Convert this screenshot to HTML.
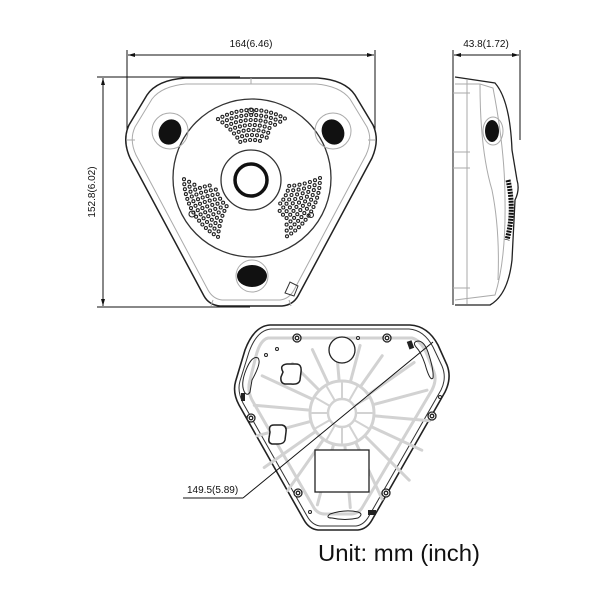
<!DOCTYPE html>
<html><head><meta charset="utf-8"><style>
html,body{margin:0;padding:0;background:#fff;width:600px;height:600px;overflow:hidden}
svg{display:block}
text{font-family:"Liberation Sans",sans-serif;fill:#111}
</style></head><body>
<svg id="s" width="600" height="600" viewBox="0 0 600 600" xmlns="http://www.w3.org/2000/svg">
<g stroke="#111" stroke-width="1" fill="none">
<line x1="127" y1="50" x2="127" y2="150"/>
<line x1="375" y1="50" x2="375" y2="150"/>
<line x1="128" y1="55" x2="374" y2="55"/>
<line x1="97" y1="77" x2="240" y2="77"/>
<line x1="97" y1="307" x2="250" y2="307"/>
<line x1="103" y1="78" x2="103" y2="306"/>
</g>
<g fill="#111">
<polygon points="128,55 135,53 135,57"/><polygon points="374,55 367,53 367,57"/>
<polygon points="103,78 101,85 105,85"/><polygon points="103,306 101,299 105,299"/>
</g>
<text x="251" y="47" font-size="10" text-anchor="middle">164(6.46)</text>
<text transform="translate(95,192) rotate(-90)" font-size="10" text-anchor="middle">152.8(6.02)</text>

<path d="M185,78 L318,78 Q345,80 355,95 L373,125 Q380,140 372,158 L298,296 Q293,305 282,306 L220,306 Q209,305 204,296 L130,158 Q122,140 129,125 L147,95 Q157,80 185,78 Z" fill="#fff" stroke="#222" stroke-width="1.5"/>
<path d="M186,84 L316,84 Q340,86 350,99 L367,127 Q373,140 366,155 L294,290 Q289,299 280,300 L222,300 Q213,299 208,290 L136,155 Q129,140 135,127 L152,99 Q162,86 186,84 Z" fill="none" stroke="#aaa" stroke-width="1"/>
<g stroke="#aaa" stroke-width="1"><line x1="251" y1="78" x2="251" y2="84"/><line x1="127" y1="140" x2="135" y2="140"/><line x1="368" y1="140" x2="375" y2="140"/><line x1="213" y1="300" x2="211" y2="306"/><line x1="289" y1="300" x2="291" y2="306"/></g>
<circle cx="252" cy="178" r="79" fill="#fff" stroke="#333" stroke-width="1.3"/>
<circle cx="251" cy="180" r="30" fill="#fff" stroke="#333" stroke-width="1.3"/>
<circle cx="251" cy="180" r="16" fill="#fff" stroke="#111" stroke-width="3.5"/>
<circle cx="170" cy="131" r="18" fill="none" stroke="#aaa"/>
<ellipse cx="170" cy="132" rx="11" ry="13" fill="#111" transform="rotate(25 170 132)"/>
<circle cx="333" cy="131" r="18" fill="none" stroke="#aaa"/>
<ellipse cx="333" cy="132" rx="11" ry="13" fill="#111" transform="rotate(-25 333 132)"/>
<circle cx="252" cy="276" r="16" fill="none" stroke="#aaa"/>
<ellipse cx="252" cy="276" rx="15" ry="11" fill="#111"/>
<path d="M285,293 L290,282 L298,286 L294,296 Z" fill="none" stroke="#333"/>
<g id="dots" fill="none" stroke="#222" stroke-width="1.1"></g>

<g stroke="#111" stroke-width="1" fill="none">
<line x1="453" y1="50" x2="453" y2="305"/>
<line x1="520" y1="50" x2="520" y2="140"/>
<line x1="454" y1="55" x2="519" y2="55"/>
</g>
<g fill="#111"><polygon points="454,55 461,53 461,57"/><polygon points="519,55 512,53 512,57"/></g>
<text x="486" y="47" font-size="10" text-anchor="middle">43.8(1.72)</text>
<path d="M455,77 L495,83 Q510,100 512,150 L517,180 Q520,190 515,200 L512,260 Q508,295 490,305 L455,305" fill="none" stroke="#222" stroke-width="1.3"/>
<path d="M455,84 L480,84 L493,88 Q505,150 505,200 Q506,260 495,295 L455,300" fill="none" stroke="#aaa"/>
<line x1="467" y1="80" x2="467" y2="304" stroke="#aaa"/>
<path d="M480,84 Q480,150 492,190 Q500,230 498,280" fill="none" stroke="#aaa"/>
<g stroke="#aaa"><line x1="453" y1="93" x2="470" y2="93"/><line x1="453" y1="152" x2="470" y2="152"/><line x1="453" y1="168" x2="470" y2="168"/><line x1="453" y1="288" x2="470" y2="288"/></g>
<ellipse cx="493" cy="131" rx="10" ry="14" fill="none" stroke="#aaa"/>
<ellipse cx="492" cy="131" rx="7" ry="11" fill="#111"/>
<path d="M508,180 Q515,210 507,240" fill="none" stroke="#111" stroke-width="5" stroke-dasharray="2 1"/>

<path d="M270,325 L410,325 Q428,326 438,345 L447,365 Q452,378 445,392 L372,520 Q367,529 358,530 L318,530 Q309,529 304,520 L239,405 Q232,392 236,380 L245,350 Q254,326 270,325 Z" fill="#fff" stroke="#222" stroke-width="1.6"/>
<path d="M271,329 L409,329 Q424,330 433,347 L442,366 Q447,378 441,390 L369,516 Q364,525 356,526 L320,526 Q312,525 307,516 L243,403 Q237,391 240,381 L249,352 Q257,330 271,329 Z" fill="none" stroke="#333" stroke-width="1"/>
<g id="spk" stroke="#d2d2d2" stroke-width="3" fill="none" stroke-linecap="round"></g>
<path d="M268,338 L412,338 Q420,340 426,352 L434,372 Q437,380 432,390 L362,508 Q358,514 350,514 L325,514 Q318,514 314,508 L252,400 Q247,390 250,380 L256,356 Q260,340 268,338 Z" fill="none" stroke="#d2d2d2" stroke-width="3"/>
<circle cx="342" cy="413" r="32" fill="none" stroke="#d2d2d2" stroke-width="3"/>
<circle cx="342" cy="413" r="14" fill="none" stroke="#d2d2d2" stroke-width="2.5"/>
<circle cx="342" cy="350" r="13" fill="#fff" stroke="#222" stroke-width="1.3"/>
<rect x="315" y="450" width="54" height="42" fill="#fff" stroke="#222" stroke-width="1.3"/>
<path d="M283,372 Q279,365 287,364 L296,364 Q302,364 301,372 L300,380 Q299,385 291,384 L285,384 Q280,383 281,377 Z" fill="#fff" stroke="#222" stroke-width="1.5"/>
<path d="M270,432 Q268,425 274,425 L282,425 Q287,426 286,432 L285,440 Q284,444 278,444 L272,444 Q268,443 269,438 Z" fill="#fff" stroke="#222" stroke-width="1.5"/>
<g id="scr" fill="#fff" stroke="#222" stroke-width="1.3"></g>
<g fill="#fff" stroke="#222" stroke-width="1">
<circle cx="277" cy="349" r="1.5"/><circle cx="266" cy="355" r="1.5"/><circle cx="440" cy="397" r="1.5"/><circle cx="310" cy="512" r="1.5"/><circle cx="358" cy="338" r="1.5"/>
</g>
<path d="M245,393 Q240,385 246,370 Q252,355 258,358 Q262,362 252,380 L250,392 Q248,396 245,393 Z" fill="none" stroke="#222"/>
<path d="M425,364 Q421,352 416,347 Q412,342 418,341 Q424,341 428,352 Q434,370 433,378 Q430,382 425,364 Z" fill="none" stroke="#222"/>
<path d="M332,518 Q325,518 330,514 Q345,509 358,512 Q364,514 358,518 Q345,521 332,518 Z" fill="none" stroke="#222"/>
<rect x="368" y="510" width="8" height="5" fill="#222"/>
<rect x="408" y="341" width="5" height="8" fill="#222" transform="rotate(-20 410 345)"/>
<rect x="241" y="393" width="4" height="8" fill="#222"/>
<g stroke="#111" stroke-width="1" fill="none">
<line x1="433" y1="342" x2="243" y2="498"/>
<line x1="243" y1="498" x2="183" y2="498"/>
</g>
<text x="187" y="493" font-size="10">149.5(5.89)</text>
<text x="318" y="561" font-size="23" textLength="162" lengthAdjust="spacingAndGlyphs">Unit: mm (inch)</text>
</svg>
<script>
var NS="http://www.w3.org/2000/svg";
var g=document.getElementById('dots');
function dot(x,y,r,p){var c=document.createElementNS(NS,'circle');c.setAttribute('cx',x.toFixed(1));c.setAttribute('cy',y.toFixed(1));c.setAttribute('r',r);(p||g).appendChild(c);}
[-90,150,30].forEach(function(a0){
  for(var rad=38;rad<=70;rad+=5){
    var half=18+(rad-38)*0.4; var step=5/rad*180/Math.PI;
    for(var a=-half;a<=half+0.01;a+=step){
      var a1=(a0+a)*Math.PI/180; dot(252+rad*Math.cos(a1),178+rad*Math.sin(a1),1.5);
    }
  }
});
dot(251,111,3); dot(192,214,3); dot(311,215,2.5);
var sc=document.getElementById('scr');
[[297,338],[387,338],[251,418],[432,416],[298,493],[386,493]].forEach(function(p){dot(p[0],p[1],4,sc);dot(p[0],p[1],1.8,sc);});
var s=document.getElementById('spk');
for(var i=0;i<18;i++){var a=(i*20+5)*Math.PI/180;
 var l=document.createElementNS(NS,'line');
 l.setAttribute('x1',(342+34*Math.cos(a)).toFixed(1));l.setAttribute('y1',(413+34*Math.sin(a)).toFixed(1));
 var R=(Math.sin(a)>0.5)?95:(Math.sin(a)<-0.6?70:88);
 l.setAttribute('x2',(342+R*Math.cos(a)).toFixed(1));l.setAttribute('y2',(413+R*Math.sin(a)).toFixed(1));s.appendChild(l);}
for(var i=0;i<12;i++){var a=(i*30)*Math.PI/180;
 var l=document.createElementNS(NS,'line');
 l.setAttribute('x1',(342+14*Math.cos(a)).toFixed(1));l.setAttribute('y1',(413+14*Math.sin(a)).toFixed(1));
 l.setAttribute('x2',(342+30*Math.cos(a)).toFixed(1));l.setAttribute('y2',(413+30*Math.sin(a)).toFixed(1));l.setAttribute('stroke-width','2');s.appendChild(l);}
</script>
</body></html>
